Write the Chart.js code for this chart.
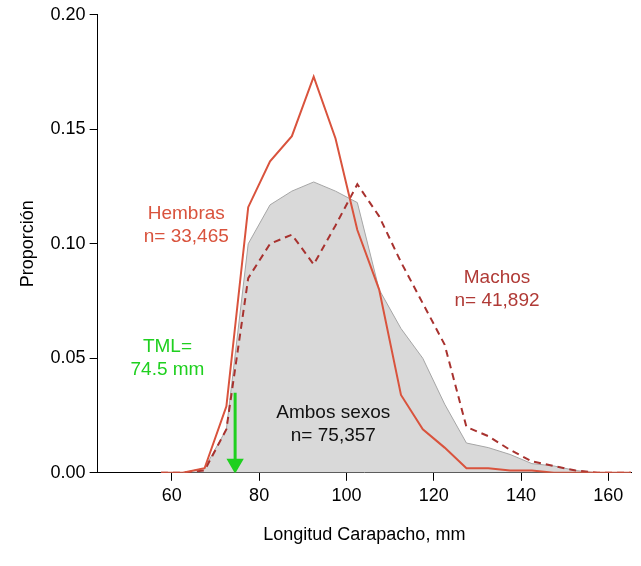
<!DOCTYPE html>
<html><head><meta charset="utf-8">
<script src="https://cdn.jsdelivr.net/npm/chart.js@4"></script>
<style>body{margin:0;background:#fff}#wrap{width:641px;height:566px}</style>
</head><body><div id="wrap"><canvas id="c"></canvas></div>
<script>
// Bin centers (mm) and proportions
const bins = [57.5, 62.5, 67.5, 72.5, 77.5, 82.5, 87.5, 92.5, 97.5, 102.5, 107.5, 112.5, 117.5, 122.5, 127.5, 132.5, 137.5, 142.5, 147.5, 152.5, 157.5, 162.5, 167.5];
const hembras = [0, 0, 0.002, 0.029, 0.116, 0.136, 0.147, 0.173, 0.146, 0.106, 0.080, 0.034, 0.019, 0.011, 0.002, 0.002, 0.001, 0.001, 0, 0, 0, 0, 0];
const machos = [0, 0, 0.001, 0.019, 0.085, 0.100, 0.104, 0.091, 0.108, 0.126, 0.112, 0.092, 0.074, 0.056, 0.020, 0.016, 0.010, 0.005, 0.003, 0.001, 0, 0, 0];
const ambos = [0, 0, 0.002, 0.019, 0.100, 0.117, 0.123, 0.127, 0.123, 0.118, 0.080, 0.063, 0.050, 0.030, 0.013, 0.011, 0.008, 0.004, 0.003, 0.001, 0, 0, 0];
const tml = 74.5;
const yTicks = [0, 0.05, 0.10, 0.15, 0.20];
const xTicks = [60, 80, 100, 120, 140, 160];

const pts = (arr) => bins.map((b, i) => ({x: b, y: arr[i]}));
const FONT = "'Liberation Sans', Arial, sans-serif";

// Annotation texts placed in data coordinates
const labels = [
  {text: ["Hembras", "n= 33,465"], x: 63.3, y: 0.113, color: "#d9533d"},
  {text: ["Machos", "n= 41,892"], x: 134.5, y: 0.085, color: "#b03a36"},
  {text: ["TML=", "74.5 mm"], x: 59, y: 0.055, color: "#1fd01f"},
  {text: ["Ambos sexos", "n= 75,357"], x: 97, y: 0.026, color: "#111"}
];

const textPlugin = {
  id: "texts",
  afterDatasetsDraw(chart) {
    const {ctx, scales} = chart;
    ctx.save();
    ctx.font = "19px " + FONT;
    ctx.textAlign = "center";
    ctx.textBaseline = "middle";
    labels.forEach((l) => {
      ctx.fillStyle = l.color;
      const px = scales.x.getPixelForValue(l.x);
      const py = scales.y.getPixelForValue(l.y);
      l.text.forEach((t, i) => ctx.fillText(t, px, py + i * 23));
    });
    ctx.restore();
  }
};

new Chart(document.getElementById("c"), {
  type: "line",
  data: {
    datasets: [
      {data: pts(ambos), order: 10, borderColor: "#a6a6a6", borderWidth: 1, backgroundColor: "#d9d9d9", fill: "origin", pointRadius: 0, tension: 0},
      {data: pts(hembras), order: 2, borderColor: "#d9533d", borderWidth: 2, fill: false, pointRadius: 0, tension: 0},
      {data: pts(machos), order: 3, borderColor: "#a8322f", borderWidth: 2, borderDash: [7, 5], fill: false, pointRadius: 0, tension: 0},
      {data: [{x: tml, y: 0.035}, {x: tml, y: 0.004}], order: 1, borderColor: "#1fd01f", borderWidth: 3, fill: false,
       pointRadius: [0, 7], pointStyle: "triangle", rotation: 180, pointBackgroundColor: "#1fd01f", pointBorderColor: "#1fd01f"}
    ]
  },
  options: {
    responsive: true,
    maintainAspectRatio: false,
    animation: false,
    layout: {padding: {top: 10, right: 0, left: 13, bottom: 16}},
    plugins: {legend: {display: false}, tooltip: {enabled: false}},
    scales: {
      x: {
        type: "linear", min: 43, max: 165.2,
        afterBuildTicks: (s) => { s.ticks = xTicks.map((v) => ({value: v})); },
        grid: {display: true, drawOnChartArea: false, drawTicks: true, tickLength: 8, tickColor: "#000"},
        border: {color: "#000", width: 1},
        ticks: {color: "#000", font: {size: 18, family: FONT}, padding: 4},
        title: {display: true, text: "Longitud Carapacho, mm", color: "#000", font: {size: 18, family: FONT}, padding: {top: 14}}
      },
      y: {
        min: 0, max: 0.2,
        afterBuildTicks: (s) => { s.ticks = yTicks.map((v) => ({value: v})); },
        grid: {display: true, drawOnChartArea: false, drawTicks: true, tickLength: 8, tickColor: "#000"},
        border: {color: "#000", width: 1},
        ticks: {color: "#000", font: {size: 18, family: FONT}, callback: (v) => v.toFixed(2), padding: 4},
        title: {display: true, text: "Proporción", color: "#000", font: {size: 18, family: FONT}, padding: {bottom: 8}}
      }
    }
  },
  plugins: [textPlugin]
});
</script></body></html>
